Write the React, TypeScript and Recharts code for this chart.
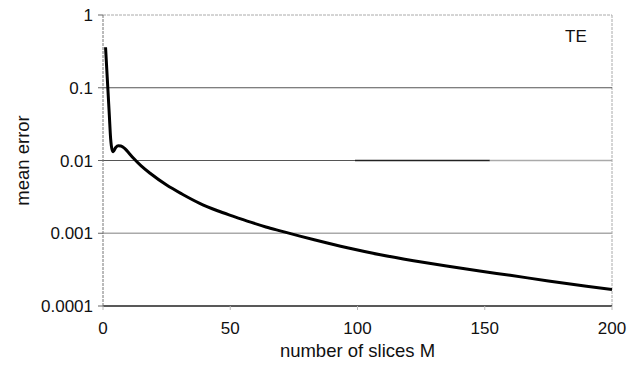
import {
  LineChart,
  Line,
  XAxis,
  YAxis,
  ReferenceLine,
} from "recharts";

// values (log y axis)
const slices = [
  1, 1.5, 2, 2.5, 3, 3.5, 4, 5, 6, 7, 8, 9, 10, 12, 15, 18.5, 25, 31, 38, 45,
  51, 58, 64, 70, 77, 83, 96, 109, 122, 135, 148, 160, 175, 190, 200,
];
const meanError = [
  0.36, 0.175, 0.085, 0.041, 0.02, 0.0144, 0.0132, 0.0151, 0.016, 0.01585,
  0.01514, 0.01413, 0.01288, 0.01072, 0.00841, 0.00667, 0.0046, 0.00347,
  0.00258, 0.00204, 0.00172, 0.00142, 0.00122, 0.00107, 0.00092, 0.000813,
  0.000631, 0.000506, 0.00042, 0.000355, 0.000303, 0.000264, 0.000221,
  0.000187, 0.000168,
];
const xTicks = [0, 50, 100, 150, 200];
const yTicks = [0.0001, 0.001, 0.01, 0.1, 1];
const yTickLabels = ["0.0001", "0.001", "0.01", "0.1", "1"];

const data = slices.map((m, i) => ({ m, err: meanError[i] }));

const font = "'Liberation Sans', Arial, Helvetica, sans-serif";

export default function App() {
  return (
    <div style={{ position: "relative", width: 639, height: 369, fontFamily: font }}>
      <style>{`body{margin:0;background:#fff}`}</style>
      <LineChart
        width={639}
        height={369}
        data={data}
        margin={{ top: 15, right: 27, bottom: 0, left: 0 }}
      >
        <XAxis
          dataKey="m"
          type="number"
          domain={[0, 200]}
          ticks={xTicks}
          allowDataOverflow
          height={63}
          tickSize={4}
          tickMargin={12}
          axisLine={{ stroke: "#222", strokeWidth: 1.5 }}
          tickLine={{ stroke: "#bbb" }}
          tick={{ fill: "#111", fontSize: 17, fontFamily: font }}
          label={{
            value: "number of slices M",
            position: "insideBottom",
            offset: 12,
            style: { fill: "#111", fontSize: 18.5, fontFamily: font },
          }}
        />
        <YAxis
          dataKey="err"
          scale="log"
          domain={[0.0001, 1]}
          ticks={yTicks}
          allowDataOverflow
          width={103}
          tickSize={5}
          tickMargin={5}
          tickFormatter={(v: number) => yTickLabels[yTicks.indexOf(v)] ?? String(v)}
          axisLine={{ stroke: "#777", strokeDasharray: "3 1" }}
          tickLine={{ stroke: "#666" }}
          tick={{ fill: "#111", fontSize: 17, fontFamily: font }}
          label={{
            value: "mean error",
            angle: -90,
            position: "insideLeft",
            offset: 22,
            style: { fill: "#111", fontSize: 18.5, fontFamily: font, textAnchor: "middle" },
          }}
        />
        <ReferenceLine y={1} stroke="#aaa" strokeDasharray="3 1" />
        <ReferenceLine x={200} stroke="#aaa" strokeDasharray="3 1" />
        <ReferenceLine y={0.1} stroke="#555" />
        <ReferenceLine
          segment={[{ x: 0, y: 0.01 }, { x: 99, y: 0.01 }]}
          stroke="#555"
        />
        <ReferenceLine
          segment={[{ x: 99, y: 0.01 }, { x: 152, y: 0.01 }]}
          stroke="#222"
          strokeWidth={1.5}
        />
        <ReferenceLine
          segment={[{ x: 152, y: 0.01 }, { x: 200, y: 0.01 }]}
          stroke="#aaa"
          strokeWidth={1.5}
        />
        <ReferenceLine y={0.001} stroke="#aaa" strokeWidth={1.5} />
        <Line
          type="monotone"
          dataKey="err"
          stroke="#000"
          strokeWidth={3}
          dot={false}
          isAnimationActive={false}
        />
      </LineChart>
      <div
        style={{
          position: "absolute",
          left: 565,
          top: 26.5,
          fontSize: 17,
          color: "#111",
        }}
      >
        TE
      </div>
    </div>
  );
}
